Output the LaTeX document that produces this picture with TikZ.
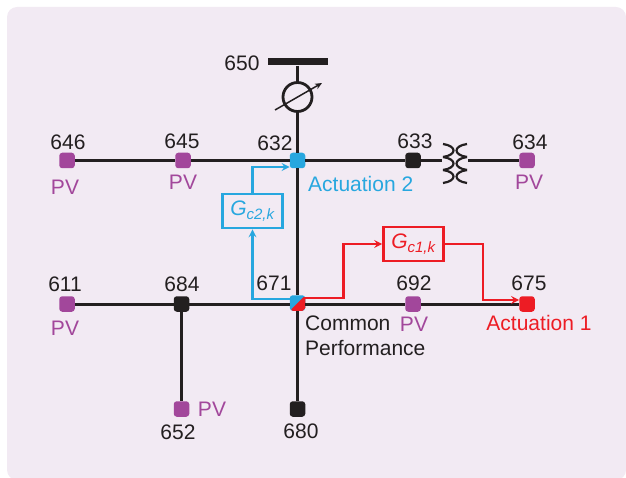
\documentclass[tikz,border=0pt]{standalone}
\usepackage{fontspec}
\usetikzlibrary{arrows.meta}
\setmainfont{Liberation Sans}
\definecolor{panelbg}{HTML}{F2EAF3}
\definecolor{inkblack}{HTML}{231F20}
\definecolor{pvpurple}{HTML}{A2479B}
\definecolor{actblue}{HTML}{27A7DF}
\definecolor{actred}{HTML}{ED1C24}
\tikzset{
    bus/.style={rectangle,rounded corners=3pt,minimum size=15.5pt,inner sep=0pt,fill=#1},
    line/.style={inkblack,line width=3pt},
    wire/.style={#1,line width=2.1pt,-{Stealth[length=8pt,width=8pt,inset=3pt]}},
    gainbox/.style={draw=#1,text=#1,line width=2.8pt,fill=panelbg,inner sep=0pt,minimum width=60pt,minimum height=34pt},
    num/.style={text=inkblack,font=\fontsize{21}{21}\selectfont,inner sep=0pt},
    pv/.style={text=pvpurple,font=\fontsize{21}{21}\selectfont,inner sep=0pt},
}
\newcommand{\gainname}[1]{\fontsize{21}{21}\selectfont\textit{G}\raisebox{-4pt}{\fontsize{15}{15}\selectfont\textit{#1}}}
\begin{document}
\begin{tikzpicture}[>=stealth,x=1pt,y=-1pt]
    \useasboundingbox (0,0) rectangle (626,478);
    \fill[panelbg,rounded corners=10pt] (7,7) rectangle (626,480);
% buses
\foreach \name/\x/\y/\col in {646/67/160.5/pvpurple,645/183/160.5/pvpurple,634/527/160.5/pvpurple,611/67/304/pvpurple,692/413/304/pvpurple,652/181.5/409/pvpurple,632/297.5/160.5/actblue,633/413/160.5/inkblack,684/181.5/304/inkblack,680/297.5/409/inkblack,675/527/304/actred}
{
    \node[bus=\col] (n\name) at (\x,\y) {};
}
\node[bus=actblue,path picture={
    \fill[actred] (path picture bounding box.north east) -- (path picture bounding box.south east) -- (path picture bounding box.south west) -- cycle;
}] (n671) at (297.5,303) {};
\node[fill=inkblack,minimum width=60pt,minimum height=7pt,inner sep=0pt] (bar650) at (297.5,62) {};
\node[circle,draw=inkblack,line width=2.8pt,minimum size=29pt,inner sep=0pt] (reg) at (297.5,97) {};
\coordinate (regA) at (275,110);
\coordinate (regB) at (322,83);
\coordinate (coilL) at (442,160.5);
\coordinate (coilR) at (468,160.5);
% lines
\draw[line] (n646)--(n645);
\draw[line] (n645)--(n632);
\draw[line] (n632)--(n633);
\draw[line] (n633)--(coilL);
\draw[line] (coilR)--(n634);
\draw[line] (bar650)--(reg);
\draw[line] (reg)--(n632);
\draw[line] (n632)--(n671);
\draw[line] (n671)--(n680);
\draw[line] (n611)--(n684);
\draw[line] (n684)--([yshift=-1pt]n671.west);
\draw[line] ([yshift=-1pt]n671.east)--(n692);
\draw[line] (n692)--(n675);
\draw[line] (n684)--(n652);
\draw[-{Stealth[length=7pt,width=6pt]},inkblack,line width=1.5pt] (regA)--(regB);
% transformer
\foreach \dy in {0,13,26}
{
    \draw[inkblack,line width=2.2pt] (443,144+\dy) .. controls (457,146+\dy) and (457,155+\dy) .. (443,157+\dy);
    \draw[inkblack,line width=2.2pt] (467,144+\dy) .. controls (453,146+\dy) and (453,155+\dy) .. (467,157+\dy);
}
% controllers
\node[gainbox=actblue] (gc2) at (252.5,211) {\gainname{c2,k}};
\node[gainbox=actred] (gc1) at (413.5,244) {\gainname{c1,k}};
\draw[wire=actblue] ([yshift=4pt]n671.west) -| (gc2.south);
\draw[wire=actblue] (gc2.north) |- ([yshift=-6.5pt]n632.west);
\draw[wire=actred] ([yshift=5pt]n671.east) -- ++(38,0) |- (gc1.west);
\draw[wire=actred] (gc1.east) -- ++(38,0) |- ([yshift=4pt]n675.west);
% labels
\node[num] (l650) at (242,63) {650};
\node[num] (l646) at (68,142) {646};
\node[num] (l645) at (182,141) {645};
\node[num] (l632) at (275,143) {632};
\node[num] (l633) at (415,141) {633};
\node[num] (l634) at (530,142) {634};
\node[num] (l611) at (65,284) {611};
\node[num] (l684) at (182,284) {684};
\node[num] (l671) at (274,283) {671};
\node[num] (l692) at (414,283) {692};
\node[num] (l675) at (529,283) {675};
\node[num] (l652) at (178,432) {652};
\node[num] (l680) at (301,431) {680};
\node[pv] (pv646) at (65,187) {PV};
\node[pv] (pv645) at (183,182) {PV};
\node[pv] (pv634) at (529,182) {PV};
\node[pv] (pv611) at (65,328) {PV};
\node[pv] (pv692) at (414,324) {PV};
\node[pv] (pv652) at (212,409) {PV};
\node[num,text=actblue,anchor=west] (act2) at (308,184) {Actuation 2};
\node[num,text=actred] (act1) at (539,323) {Actuation 1};
\node[num,anchor=west] (common) at (305,323) {Common};
\node[num,anchor=west] (perf) at (305,348) {Performance};

\end{tikzpicture}
\end{document}
